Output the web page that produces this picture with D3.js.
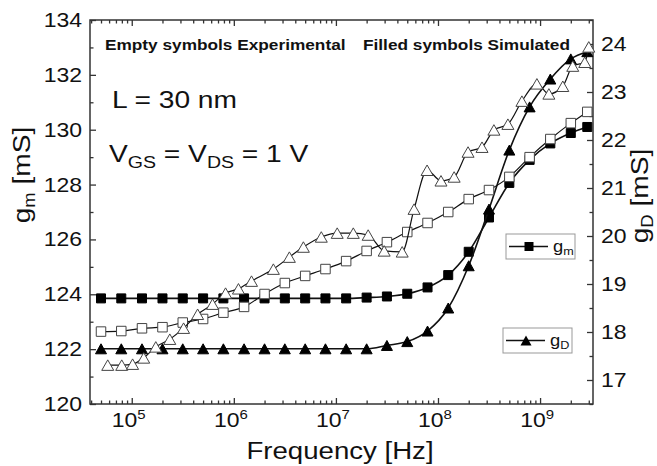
<!DOCTYPE html>
<html>
<head>
<meta charset="utf-8">
<script src="https://cdn.jsdelivr.net/npm/d3@7"></script>
<style>
  body { margin: 0; background: #fff; }
  text { font-family: "Liberation Sans", Arial, sans-serif; fill: #111; }
</style>
</head>
<body>
<svg id="chart" width="657" height="466"></svg>
<script>
// frequency grid of simulated data and of experimental g_m [Hz]
const freqGrid = [5.0e4, 7.9e4, 1.26e5, 2.0e5, 3.16e5, 5.0e5, 7.9e5, 1.26e6, 2.0e6, 3.16e6,
  5.0e6, 7.9e6, 1.26e7, 2.0e7, 3.16e7, 5.0e7, 7.9e7, 1.26e8, 2.0e8, 3.16e8,
  5.0e8, 7.9e8, 1.26e9, 2.0e9, 2.9e9];

// simulated (filled symbols)
const gmSim = [123.85, 123.85, 123.85, 123.85, 123.85, 123.85, 123.85, 123.85, 123.85, 123.85,
  123.85, 123.85, 123.85, 123.88, 123.92, 124.02, 124.25, 124.7, 125.55, 126.8,
  128.06, 128.9, 129.5, 129.88, 130.1];
const gdSim = [17.65, 17.65, 17.65, 17.65, 17.65, 17.65, 17.65, 17.65, 17.65, 17.65,
  17.65, 17.65, 17.65, 17.65, 17.72, 17.8, 18.02, 18.5, 19.38, 20.56,
  21.79, 22.69, 23.27, 23.69, 23.84];

// experimental (empty symbols)
const gmExp = [122.64, 122.66, 122.76, 122.8, 122.97, 123.1, 123.33, 123.54, 124.01, 124.41,
  124.67, 124.92, 125.21, 125.58, 125.9, 126.27, 126.6, 127.0, 127.47, 127.8,
  128.28, 129.0, 129.66, 130.24, 130.65];
const freqGdExp = [5.82e4, 7.98e4, 1.02e5, 1.31e5, 1.72e5, 2.36e5, 3.22e5, 4.42e5, 6.19e5, 8.3e5,
  1.11e6, 1.49e6, 2.44e6, 3.5e6, 4.8e6, 7.19e6, 1.03e7, 1.48e7, 2.07e7, 2.97e7,
  4.46e7, 5.83e7, 7.82e7, 1.07e8, 1.44e8, 1.97e8, 2.7e8, 3.53e8, 4.84e8, 6.64e8,
  9.31e8, 1.22e9, 1.67e9, 2.09e9, 2.74e9, 3.0e9];
const gdExp = [17.31, 17.31, 17.33, 17.46, 17.69, 17.85, 18.08, 18.37, 18.58, 18.81,
  18.9, 19.06, 19.31, 19.56, 19.77, 19.98, 20.06, 20.06, 20.02, 19.69,
  19.67, 20.56, 21.37, 21.15, 21.23, 21.75, 21.85, 22.21, 22.33, 22.81,
  23.17, 22.96, 23.12, 23.54, 23.62, 23.94];

const leftTicks = [120, 122, 124, 126, 128, 130, 132, 134];
const rightTicks = [17, 18, 19, 20, 21, 22, 23, 24];
const xDecades = [5, 6, 7, 8, 9];

const svg = d3.select("#chart");
const SX = 1.15; // the source lettering is a bit wide
const L = 90, R = 593, T = 20, B = 404;

const x = d3.scaleLog().domain([3.9e4, 3.3e9]).range([L, R]);
const yL = d3.scaleLinear().domain([120, 134]).range([B, T]);
const yR = d3.scaleLinear().domain([16.5, 24.5]).range([B, T]);

function stext(g, px, py, size, rot) {
  return g.append("text")
    .attr("transform", `translate(${px},${py})${rot ? " rotate(-90)" : ""} scale(${SX},1)`)
    .style("font-size", size + "px");
}

// ticks (all pointing inward)
const majorX = xDecades.map(e => Math.pow(10, e));
const minorX = x.ticks().filter(v => !majorX.some(m => Math.abs(m - v) < 1e-6 * v));

function tickAxis(axis, tx, ty) {
  svg.append("g").attr("transform", `translate(${tx},${ty})`)
    .call(axis)
    .call(g => g.select(".domain").remove())
    .call(g => g.selectAll("line").attr("stroke", "#333").attr("stroke-width", 1.3));
}
tickAxis(d3.axisBottom(x).tickValues(majorX).tickSize(-6).tickFormat(""), 0, B);
tickAxis(d3.axisBottom(x).tickValues(minorX).tickSize(-3.5).tickFormat(""), 0, B);
tickAxis(d3.axisTop(x).tickValues(majorX).tickSize(-6).tickFormat(""), 0, T);
tickAxis(d3.axisTop(x).tickValues(minorX).tickSize(-3.5).tickFormat(""), 0, T);
tickAxis(d3.axisLeft(yL).tickValues(leftTicks).tickSize(-6).tickFormat(""), L, 0);
tickAxis(d3.axisLeft(yL).tickValues(d3.range(121, 134, 2)).tickSize(-3.5).tickFormat(""), L, 0);
tickAxis(d3.axisRight(yR).tickValues(rightTicks).tickSize(-6).tickFormat(""), R, 0);
tickAxis(d3.axisRight(yR).tickValues(d3.range(16.5, 24.6, 1)).tickSize(-3.5).tickFormat(""), R, 0);

svg.append("rect")
  .attr("x", L).attr("y", T).attr("width", R - L).attr("height", B - T)
  .attr("fill", "none").attr("stroke", "#333").attr("stroke-width", 1.5);

// tick labels
leftTicks.forEach(v => {
  stext(svg, 82, yL(v) + 7, 20).attr("text-anchor", "end").text(v);
});
rightTicks.forEach(v => {
  stext(svg, 601, yR(v) + 7, 20).attr("text-anchor", "start").text(v);
});
xDecades.forEach(e => {
  const t = stext(svg, x(Math.pow(10, e)) - 3, 427, 20).attr("text-anchor", "middle");
  t.append("tspan").text("10");
  t.append("tspan").attr("dy", -8).style("font-size", "13px").text(e);
});

// axis titles
stext(svg, 340, 459, 24).attr("text-anchor", "middle").text("Frequency [Hz]");
const ylt = stext(svg, 30, 175, 24.5, true).attr("text-anchor", "middle");
ylt.append("tspan").text("g");
ylt.append("tspan").attr("dy", 5).style("font-size", "16px").text("m");
ylt.append("tspan").attr("dy", -5).text(" [mS]");
const yrt = stext(svg, 648, 196, 24.5, true).attr("text-anchor", "middle");
yrt.append("tspan").text("g");
yrt.append("tspan").attr("dy", 5).style("font-size", "16px").text("D");
yrt.append("tspan").attr("dy", -5).text(" [mS]");

// annotations
stext(svg, 105, 50, 15).style("font-weight", "bold").text("Empty symbols Experimental");
stext(svg, 363, 50, 15).style("font-weight", "bold").text("Filled symbols Simulated");
stext(svg, 112, 108, 24.5).text("L = 30 nm");
const vt = stext(svg, 109, 162, 24.5);
vt.append("tspan").text("V");
vt.append("tspan").attr("dy", 6).style("font-size", "17px").text("GS");
vt.append("tspan").attr("dy", -6).text(" = V");
vt.append("tspan").attr("dy", 6).style("font-size", "17px").text("DS");
vt.append("tspan").attr("dy", -6).text(" = 1 V");

// markers
const sq = s => `M${-s / 2},${-s / 2}h${s}v${s}h${-s}Z`;
const tri = (w, h) => `M0,${-h / 2}L${w / 2},${h / 2}L${-w / 2},${h / 2}Z`;

function series(fx, fy, yScale, shape, filled, lw) {
  const pts = fx.map((f, i) => [x(f), yScale(fy[i])]);
  svg.append("path")
    .attr("d", d3.line().curve(d3.curveMonotoneX)(pts))
    .attr("fill", "none").attr("stroke", "#111").attr("stroke-width", lw);
  svg.append("g").selectAll("path")
    .data(pts)
    .join("path")
    .attr("transform", d => `translate(${d[0]},${d[1]})`)
    .attr("d", shape)
    .attr("fill", filled ? "#000" : "#fff")
    .attr("stroke", filled ? "#000" : "#444")
    .attr("stroke-width", 1);
}

series(freqGrid, gmSim, yL, sq(9), true, 1.6);
series(freqGrid, gdSim, yR, tri(11, 10), true, 1.6);
series(freqGrid, gmExp, yL, sq(9.5), false, 1.2);
series(freqGdExp, gdExp, yR, tri(12, 10.5), false, 1.2);

// legend
const legend = [
  { name: "m", shape: sq(9), box: [506, 234, 69, 25] },
  { name: "D", shape: tri(11, 10), box: [503, 328, 69, 25] }
];
legend.forEach(d => {
  const [bx, by, bw, bh] = d.box;
  const g = svg.append("g");
  g.append("rect").attr("x", bx).attr("y", by).attr("width", bw).attr("height", bh)
    .attr("fill", "#fff").attr("stroke", "#999").attr("stroke-width", 1);
  const cy = by + bh / 2;
  g.append("line").attr("x1", bx + 3).attr("x2", bx + 42).attr("y1", cy).attr("y2", cy)
    .attr("stroke", "#111").attr("stroke-width", 1.6);
  g.append("path").attr("transform", `translate(${bx + 23},${cy})`).attr("d", d.shape).attr("fill", "#000");
  const t = stext(g, bx + 47, cy + 5, 16);
  t.append("tspan").text("g");
  t.append("tspan").attr("dy", 3).style("font-size", "11px").text(d.name);
});
</script>
</body>
</html>
